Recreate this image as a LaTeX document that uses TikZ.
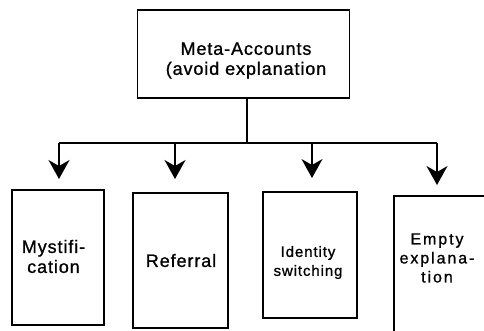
\documentclass[tikz,border=0pt]{standalone}
\usepackage{fontspec}
\setmainfont{Liberation Sans}
\usetikzlibrary{arrows.meta}
\begin{document}
\begin{tikzpicture}[x=1pt, y=-1pt, line width=1.2pt,
  box/.style={draw, rectangle, inner sep=0pt},
  lbl/.style={align=center, inner sep=0pt},
  big/.style={font=\fontsize{18}{20}\selectfont\addfontfeature{LetterSpace=5,FakeBold=1}},
  mid/.style={font=\fontsize{16}{19}\selectfont\addfontfeature{LetterSpace=12,FakeBold=1}},
  small/.style={font=\fontsize{15}{19}\selectfont\addfontfeature{LetterSpace=6,FakeBold=1}},
  arr/.style={-{Stealth[length=19pt, width=21pt, inset=6pt]}}]
\useasboundingbox (0,0) rectangle (484,330);
\clip (0,0) rectangle (484,330);

% top box
\node[box, minimum width=212pt, minimum height=88pt] (meta) at (243.5,54) {};
\node[lbl, big] (metaText) at (246,60.5) {Meta-Accounts\\(avoid explanation};

% the four categories
\node[box, minimum width=92pt, minimum height=135pt] (myst) at (58,257.5) {};
\node[lbl, big] (mystText) at (53.5,256.5) {Mystifi-\\cation};

\node[box, minimum width=95pt, minimum height=135pt] (refl) at (180.5,260.5) {};
\node[lbl, big] (reflText) at (181,260.5) {Referral};

\node[box, minimum width=94pt, minimum height=126pt] (iden) at (310,255) {};
\node[lbl, small] (idenText) at (308,262.5) {Identity\\switching};

% last box runs past the right and bottom edges
\node[box, minimum width=200pt, minimum height=170pt] (empt) at (494,281) {};
\node[lbl, mid] (emptText) at (437,258) {Empty\\explana-\\tion};

% branching connectors
\coordinate (j0) at (247,143);
\coordinate (bl) at (59,143);
\coordinate (br) at (437,143);
\coordinate (b2) at (175,143);
\coordinate (b3) at (312,143);
\coordinate (t1) at (59,179);
\coordinate (t2) at (175,179);
\coordinate (t3) at (312,178);
\coordinate (t4) at (437,185);

\draw (meta.south -| j0) -- (j0);
\draw (bl) -- (br);
\draw[arr] (bl) -- (t1);
\draw[arr] (b2) -- (t2);
\draw[arr] (b3) -- (t3);
\draw[arr] (br) -- (t4);
\end{tikzpicture}
\end{document}
